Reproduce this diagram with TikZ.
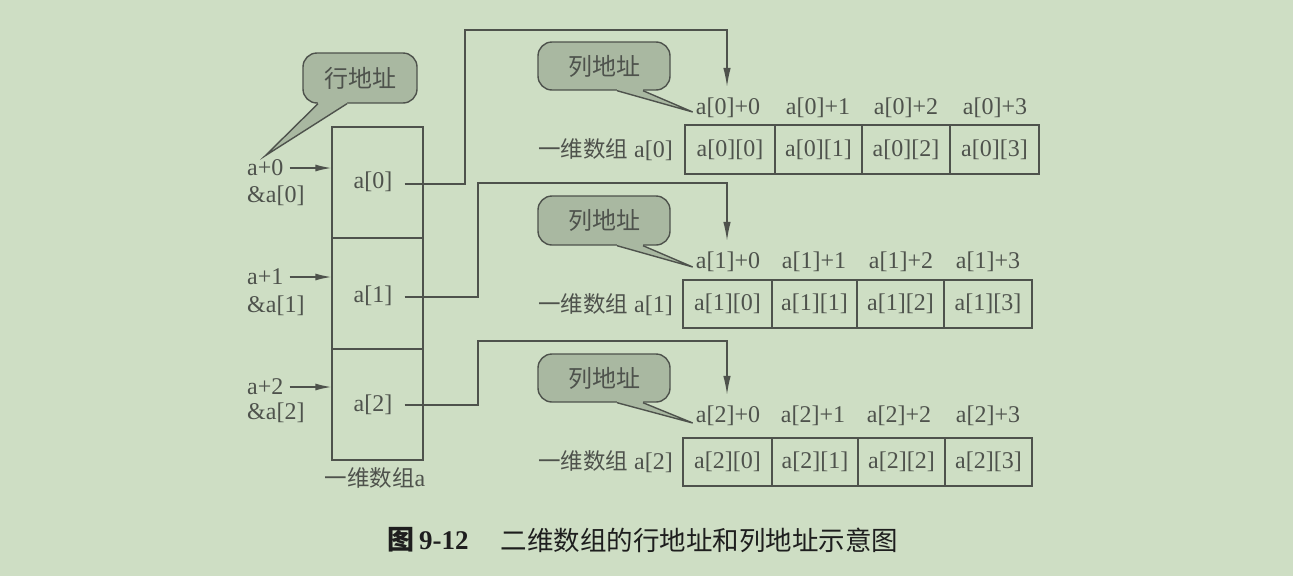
\documentclass[tikz,border=0pt]{standalone}
\usepackage{fontspec}
\setmainfont{Liberation Serif}
\newfontfamily\cjk{Noto Sans CJK SC}
\usetikzlibrary{arrows.meta,calc}

\definecolor{bg}{HTML}{CEDEC4}
\definecolor{ink}{HTML}{4E524C}
\definecolor{tagfill}{HTML}{A9B8A1}
\definecolor{capink}{HTML}{1E1E1E}

% Chinese text inside the diagram
\newcommand\zhtext[1]{{\cjk\fontsize{22.5}{24}\selectfont #1}}
% tail of a speech bubble: node, left/right offsets of its base, tip
\newcommand\tagtail[4]{%
  \fill[tagfill] ($(#1.south)+(#2,-4)$) -- ($(#1.south)+(#2,0)$) -- (#4)
      -- ($(#1.south)+(#3,0)$) -- ($(#1.south)+(#3,-4)$) -- cycle;
  \draw[wire] ($(#1.south)+(#2,0)$) -- (#4) -- ($(#1.south)+(#3,0)$);}

\begin{document}
\begin{tikzpicture}[x=1pt,y=-1pt,
  every node/.style={text=ink, font=\fontsize{24}{26}\selectfont},
  wire/.style={draw=ink, line width=1.4pt},
  conn/.style={wire, -{Latex[length=19pt,width=7.5pt]}, shorten >=8pt},
  ptr/.style={wire, -{Latex[length=16pt,width=7pt]}, shorten <=3pt},
  slot/.style={draw=ink, line width=1.4pt, minimum width=91pt,
               minimum height=111pt, inner sep=0pt},
  cell/.style={draw=ink, line width=1.4pt, inner sep=0pt},
  tag/.style={draw=ink, fill=tagfill, line width=1.4pt, rounded corners=14pt,
              inner sep=0pt, font=\cjk\fontsize{24}{26}\selectfont},
  lbl/.style={inner sep=3pt}]

\fill[bg] (0,0) rectangle (1293,576);
\useasboundingbox (0,0) rectangle (1293,576);

% ---- the row array a ----
\node[slot] (slot0) at (377.5,182.5) {};
\node[slot] (slot1) at (377.5,293.5) {};
\node[slot] (slot2) at (377.5,404.5) {};
\node[inner sep=12pt] (rowtxt0) at (373,182) {a[0]};
\node[inner sep=12pt] (rowtxt1) at (373,296) {a[1]};
\node[inner sep=12pt] (rowtxt2) at (373,405) {a[2]};
\node (rowname) at (375,478) {\zhtext{一维数组}a};

% ---- row addresses ----
\node[lbl, anchor=west] (ap0)  at (244,168) {a+0};
\node[lbl, anchor=west] (amp0) at (244,196) {\&a[0]};
\node[lbl, anchor=west] (ap1)  at (244,277) {a+1};
\node[lbl, anchor=west] (amp1) at (244,306) {\&a[1]};
\node[lbl, anchor=west] (ap2)  at (244,387) {a+2};
\node[lbl, anchor=west] (amp2) at (244,413) {\&a[2]};
\draw[ptr] (ap0.east) -- (ap0.east -| slot0.west);
\draw[ptr] (ap1.east) -- (ap1.east -| slot1.west);
\draw[ptr] (ap2.east) -- (ap2.east -| slot2.west);

% ---- the three one-dimensional arrays ----
\node[lbl, anchor=east] (rowlbl0) at (676,150) {\zhtext{一维数组}\ a[0]};
\node[lbl, anchor=east] (rowlbl1) at (676,305) {\zhtext{一维数组}\ a[1]};
\node[lbl, anchor=east] (rowlbl2) at (676,462) {\zhtext{一维数组}\ a[2]};

\node[cell, minimum width=90pt, minimum height=49pt] (c00) at (730,149.5) {a[0][0]};
\node[cell, minimum width=87pt, minimum height=49pt] (c01) at (818.5,149.5) {a[0][1]};
\node[cell, minimum width=88pt, minimum height=49pt] (c02) at (906,149.5) {a[0][2]};
\node[cell, minimum width=89pt, minimum height=49pt] (c03) at (994.5,149.5) {a[0][3]};

\node[cell, minimum width=89pt, minimum height=48pt] (c10) at (727.5,304) {a[1][0]};
\node[cell, minimum width=85pt, minimum height=48pt] (c11) at (814.5,304) {a[1][1]};
\node[cell, minimum width=87pt, minimum height=48pt] (c12) at (900.5,304) {a[1][2]};
\node[cell, minimum width=88pt, minimum height=48pt] (c13) at (988,304) {a[1][3]};

\node[cell, minimum width=89pt, minimum height=48pt] (c20) at (727.5,462) {a[2][0]};
\node[cell, minimum width=86pt, minimum height=48pt] (c21) at (815,462) {a[2][1]};
\node[cell, minimum width=87pt, minimum height=48pt] (c22) at (901.5,462) {a[2][2]};
\node[cell, minimum width=87pt, minimum height=48pt] (c23) at (988.5,462) {a[2][3]};

% ---- column addresses ----
\node[lbl] (colA0) at (728,108) {a[0]+0};
\node[lbl] (colB0) at (818,108) {a[0]+1};
\node[lbl] (colC0) at (906,108) {a[0]+2};
\node[lbl] (colD0) at (995,108) {a[0]+3};
\node[lbl] (colA1) at (728,262) {a[1]+0};
\node[lbl] (colB1) at (814,262) {a[1]+1};
\node[lbl] (colC1) at (901,262) {a[1]+2};
\node[lbl] (colD1) at (988,262) {a[1]+3};
\node[lbl] (colA2) at (728,416) {a[2]+0};
\node[lbl] (colB2) at (813,416) {a[2]+1};
\node[lbl] (colC2) at (899,416) {a[2]+2};
\node[lbl] (colD2) at (988,416) {a[2]+3};

% ---- from each row element to its one-dimensional array ----
\draw[conn] ([yshift=-2pt]rowtxt0.east) -| (465,30) -| ([xshift=-1pt]colA0.north);
\draw[conn] ([yshift=-1pt]rowtxt1.east) -| (478,183) -| ([xshift=-1pt]colA1.north);
\draw[conn] (rowtxt2.east) -| (478,341) -| ([xshift=-1pt]colA2.north);

% ---- speech bubbles ----
\node[tag, minimum width=114pt, minimum height=50pt] (rowtag) at (360,78) {行地址};
\tagtail{rowtag}{-42}{-13}{[yshift=1pt]ap0.north}

\node[tag, minimum width=132pt, minimum height=48pt] (coltag0) at (604,66) {列地址};
\tagtail{coltag0}{13}{39}{[yshift=-4pt]colA0.west}
\node[tag, minimum width=132pt, minimum height=49pt] (coltag1) at (604,220.5) {列地址};
\tagtail{coltag1}{13}{39}{[yshift=-5pt]colA1.west}
\node[tag, minimum width=132pt, minimum height=48pt] (coltag2) at (604,378) {列地址};
\tagtail{coltag2}{13}{39}{[yshift=-7pt]colA2.west}

% ---- caption ----
\node[anchor=west, text=capink, font=\bfseries\fontsize{27}{30}\selectfont]
  (capnum) at (384,540) {{\cjk 图}\,9-12};
\node[anchor=west, text=capink, font=\cjk\fontsize{26.5}{30}\selectfont]
  (captext) at (497,540) {二维数组的行地址和列地址示意图};
\end{tikzpicture}
\end{document}
